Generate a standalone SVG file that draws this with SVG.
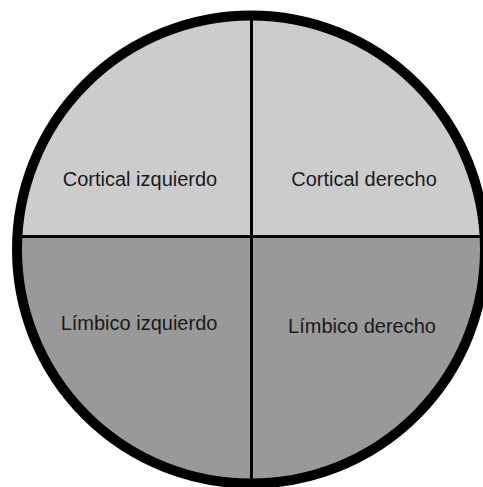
<svg xmlns="http://www.w3.org/2000/svg" width="483" height="487" viewBox="0 0 483 487">
<style>
.lbl{font-family:"Liberation Sans",Arial,sans-serif;font-size:20px;fill:#1a1a1a;text-anchor:middle}
.div{stroke:#000;stroke-width:3;fill:none}
</style>
<defs>
<clipPath id="c"><circle cx="251" cy="249.5" r="234"/></clipPath>
</defs>
<rect width="483" height="487" fill="#fff"/>
<g clip-path="url(#c)">
<g id="cortical-izquierdo"><rect x="0" y="0" width="251.5" height="236.5" fill="#cccccc"/><text class="lbl" x="140" y="186">Cortical izquierdo</text></g>
<g id="cortical-derecho"><rect x="251.5" y="0" width="240" height="236.5" fill="#cccccc"/><text class="lbl" x="364" y="186">Cortical derecho</text></g>
<g id="limbico-izquierdo"><rect x="0" y="236.5" width="251.5" height="260" fill="#999999"/><text class="lbl" x="139" y="330">Límbico izquierdo</text></g>
<g id="limbico-derecho"><rect x="251.5" y="236.5" width="240" height="260" fill="#999999"/><text class="lbl" x="362" y="333">Límbico derecho</text></g>
<g id="connectors">
<line class="div" x1="0" y1="236.5" x2="490" y2="236.5"/>
<line class="div" x1="251.5" y1="0" x2="251.5" y2="490"/>
</g>
</g>
<circle cx="251" cy="249.5" r="234" fill="none" stroke="#000" stroke-width="10"/>
</svg>
